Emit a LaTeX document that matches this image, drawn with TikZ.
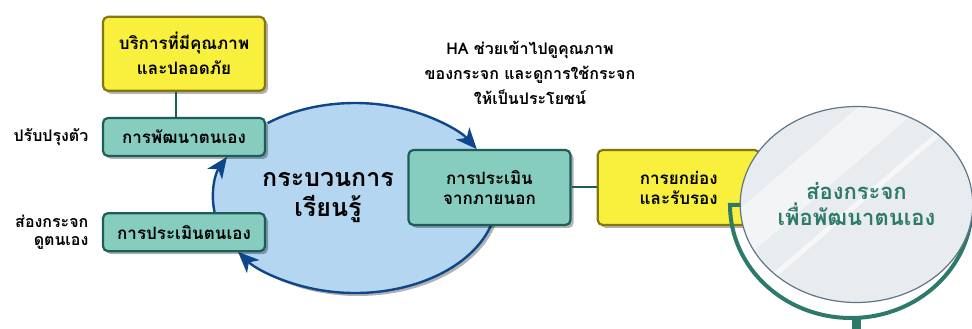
\documentclass[tikz,border=0pt]{standalone}
\usepackage{fontspec}
\newfontfamily\thaifont[Script=Thai]{Loma}
\usepackage{tikz}
\definecolor{tealfill}{RGB}{134,205,191}
\definecolor{tealline}{RGB}{28,93,87}
\definecolor{yellowfill}{RGB}{249,239,61}
\definecolor{yellowline}{RGB}{133,118,20}
\definecolor{learnblue}{RGB}{180,214,241}
\definecolor{flowblue}{RGB}{15,70,138}
\definecolor{mirrorgreen}{RGB}{45,122,107}
\definecolor{glassfill}{RGB}{233,236,239}
\definecolor{glassline}{RGB}{96,117,133}
\usetikzlibrary{shapes.geometric, arrows.meta, positioning, calc, shadows}

\begin{document}
\begin{tikzpicture}[
    x=1pt, y=1pt,
    node distance=25pt,
    boxshadow/.style={drop shadow={shadow xshift=3pt, shadow yshift=-3pt, fill=black, opacity=0.3}},
    tealbox/.style={rectangle, draw=tealline, fill=tealfill, line width=2.2pt, rounded corners=5pt, minimum width=162pt, align=center, font=\thaifont\bfseries\fontsize{17}{20}\selectfont, boxshadow},
    yellowbox/.style={tealbox, draw=yellowline, fill=yellowfill},
    sidelabel/.style={align=right, font=\thaifont\bfseries\fontsize{16}{18}\selectfont},
    link/.style={line width=2pt, tealline},
    flow/.style={-{Stealth[length=21pt, width=18pt, inset=6pt]}, line width=2.4pt, flowblue},
    holder/.style={line width=4pt, mirrorgreen}
]
    \useasboundingbox (0,0) rectangle (972,329);

    \node[ellipse, fill=learnblue, minimum width=284pt, minimum height=190pt, boxshadow] (learn) at (355,131) {};
    \node[align=center, font=\thaifont\bfseries\fontsize{25}{30}\selectfont] (learnlabel) at (328,131) {กระบวนการ\\เรียนรู้};

    \draw[flow] ($(learn.center)+(128:142pt and 95pt)$) arc[start angle=128, end angle=31, x radius=142pt, y radius=95pt];
    \draw[flow] ($(learn.center)+(188.5:142pt and 95pt)$) arc[start angle=188.5, end angle=154.4, x radius=142pt, y radius=95pt];
    \draw[flow] ($(learn.center)+(343:142pt and 95pt)$) arc[start angle=343, end angle=214.6, x radius=142pt, y radius=95pt];

    \node[tealbox, minimum height=38pt] (dev) at (184,192) {การพัฒนาตนเอง};
    \node[yellowbox, minimum height=74pt, above=25pt of dev, font=\thaifont\bfseries\fontsize{17}{25}\selectfont] (quality) {บริการที่มีคุณภาพ\\และปลอดภัย};
    \node[tealbox, minimum height=38pt, below=55pt of dev] (selfeval) {การประเมินตนเอง};
    \node[tealbox, minimum height=75pt] (external) at (489.5,141.5) {การประเมิน\\จากภายนอก};
    \node[yellowbox, minimum height=75pt, right=of external] (recog) {การยกย่อง\\และรับรอง};

    \draw[link] ([xshift=-8pt]quality.south) -- ([xshift=-8pt]dev.north);
    \draw[link] (external) -- (recog);

    \node[sidelabel, left=10pt of dev] (improve) {ปรับปรุงตัว};
    \node[sidelabel, left=10pt of selfeval] (lookself) {ส่องกระจก\\ดูตนเอง};
    \node[align=center, font=\thaifont\bfseries\fontsize{16}{25}\selectfont] (hanote) at (530,256) {HA ช่วยเข้าไปดูคุณภาพ\\ของกระจก และดูการใช้กระจก\\ให้เป็นประโยชน์};

    \coordinate (hold) at (851,124);
    \draw[holder] ($(hold)+(-100,0)$) -- ($(hold)+(-121,0)$) arc[start angle=180, end angle=360, x radius=121pt, y radius=113pt] -- ($(hold)+(100,0)$);
    \fill[mirrorgreen] (852,0) rectangle (861,12);

    \node[ellipse, fill=glassfill, draw=glassline, line width=1.2pt, minimum width=218pt, minimum height=196pt,
        text=mirrorgreen, align=center, font=\thaifont\bfseries\fontsize{22}{26}\selectfont,
        path picture={
            \fill[white, opacity=0.45] ($(path picture bounding box.center)+(-150,-33)$) -- ++(300,258) -- ++(0,-54) -- ++(-300,-258) -- cycle;
            \fill[white, opacity=0.6] ($(path picture bounding box.center)+(-150,-125.7)$) -- ++(300,258) -- ++(0,-6.6) -- ++(-300,-258) -- cycle;
        }] (glass) at (856.5,124.5) {ส่องกระจก\\เพื่อพัฒนาตนเอง};
\end{tikzpicture}
\end{document}
